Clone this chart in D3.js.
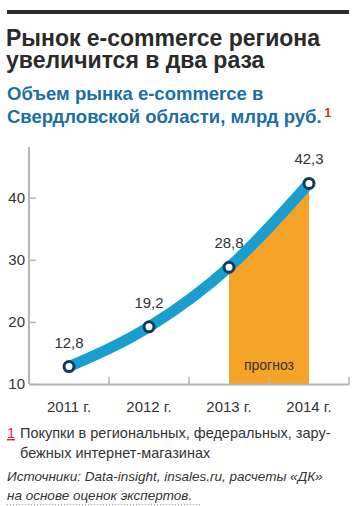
<!DOCTYPE html>
<html>
<head>
<meta charset="utf-8">
<script src="https://cdn.jsdelivr.net/npm/d3@7"></script>
<style>
  body { margin: 0; background: #fff; }
  svg { display: block; font-family: "Liberation Sans", Arial, sans-serif; }
</style>
</head>
<body>
<div id="chart"></div>
<script>
// Data
const years = ["2011 г.", "2012 г.", "2013 г.", "2014 г."];
const values = [12.8, 19.2, 28.8, 42.3];
const valueLabels = ["12,8", "19,2", "28,8", "42,3"];
const yTicks = [10, 20, 30, 40];
const forecastYears = ["2013 г.", "2014 г."];

const width = 354, height = 506;

const svg = d3.select("#chart").append("svg")
    .attr("width", width)
    .attr("height", height);

// Top rule
svg.append("rect")
    .attr("x", 7).attr("y", 10)
    .attr("width", 342).attr("height", 4)
    .attr("fill", "#2a2a2a");

// Title
const title = svg.append("text")
    .attr("fill", "#2a2a2a")
    .style("font-size", "23px")
    .style("font-weight", "bold");
title.append("tspan").attr("x", 6).attr("y", 46).text("Рынок e-commerce региона");
title.append("tspan").attr("x", 6).attr("y", 68).text("увеличится в два раза");

// Subtitle
const sub = svg.append("text")
    .attr("fill", "#1a6fa3")
    .style("font-size", "18.5px")
    .style("font-weight", "bold");
sub.append("tspan").attr("x", 7).attr("y", 100).text("Объем рынка e-commerce в");
sub.append("tspan").attr("x", 7).attr("y", 123).text("Свердловской области, млрд руб.");
sub.append("tspan")
    .attr("dx", 3).attr("dy", -6)
    .attr("fill", "#d8262e")
    .style("font-size", "12px")
    .text("1");

// Scales
const x = d3.scaleBand()
    .domain(years)
    .range([29, 349]);

const y = d3.scaleLinear()
    .domain([10, 48])
    .range([384, 148]);

const cx = d => x(d) + x.bandwidth() / 2;
const pts = years.map((d, i) => [cx(d), y(values[i])]);

// Forecast area (clipped to forecast span)
svg.append("clipPath").attr("id", "fc")
  .append("rect")
    .attr("x", cx(forecastYears[0]))
    .attr("y", 0)
    .attr("width", cx(forecastYears[1]) - cx(forecastYears[0]))
    .attr("height", y(10));

svg.append("path")
    .datum(pts)
    .attr("clip-path", "url(#fc)")
    .attr("fill", "#f5a228")
    .attr("d", d3.area()
        .x(d => d[0])
        .y0(y(10))
        .y1(d => d[1])
        .curve(d3.curveMonotoneX));

svg.append("text")
    .attr("x", x(forecastYears[0]) + x.bandwidth())
    .attr("y", 370)
    .attr("text-anchor", "middle")
    .attr("fill", "#333")
    .style("font-size", "14px")
    .text("прогноз");

// Y axis
const yAxis = svg.append("g")
    .attr("transform", "translate(29,0)")
    .call(d3.axisLeft(y)
        .tickValues(yTicks)
        .tickSizeInner(-7)
        .tickSizeOuter(0)
        .tickPadding(4));
yAxis.select(".domain").attr("stroke", "#b5b5b5").attr("stroke-width", 2)
    .attr("d", `M0,${y(48) - 1}V${y(10)}`);
yAxis.selectAll(".tick line").attr("stroke", "#b5b5b5").attr("stroke-width", 1.5);
yAxis.selectAll(".tick text")
    .attr("fill", "#333")
    .style("font-size", "15px")
    .style("font-family", "Liberation Sans, Arial, sans-serif");

// X axis
const xAxis = svg.append("g")
    .attr("transform", `translate(0,${y(10)})`)
    .call(d3.axisBottom(x).tickSize(0).tickPadding(17));
xAxis.select(".domain").attr("stroke", "#b5b5b5").attr("stroke-width", 2);
xAxis.selectAll(".tick text")
    .attr("fill", "#333")
    .style("font-size", "15px")
    .style("font-family", "Liberation Sans, Arial, sans-serif");

svg.append("g")
  .selectAll("line")
  .data(years)
  .join("line")
    .attr("x1", d => x(d) + x.bandwidth())
    .attr("x2", d => x(d) + x.bandwidth())
    .attr("y1", y(10) - 7)
    .attr("y2", y(10))
    .attr("stroke", "#b5b5b5")
    .attr("stroke-width", 1.5);

// Line
svg.append("path")
    .datum(pts)
    .attr("fill", "none")
    .attr("stroke", "#1a9ed0")
    .attr("stroke-width", 11)
    .attr("d", d3.line().curve(d3.curveMonotoneX));

// Points
svg.selectAll(".dot")
    .data(pts)
    .join("circle")
    .attr("class", "dot")
    .attr("cx", d => d[0])
    .attr("cy", d => d[1])
    .attr("r", 5)
    .attr("fill", "#fff")
    .attr("stroke", "#0e3b62")
    .attr("stroke-width", 3);

// Value labels
svg.selectAll(".val")
    .data(pts)
    .join("text")
    .attr("class", "val")
    .attr("x", d => d[0])
    .attr("y", d => d[1] - 19)
    .attr("text-anchor", "middle")
    .attr("fill", "#333")
    .style("font-size", "15px")
    .text((d, i) => valueLabels[i]);

// Footnote
svg.append("text")
    .attr("x", 7).attr("y", 438)
    .attr("fill", "#d8262e")
    .attr("text-decoration", "underline")
    .style("font-size", "14.5px")
    .text("1");

const note = svg.append("text")
    .attr("fill", "#333")
    .style("font-size", "14.5px");
note.append("tspan").attr("x", 20).attr("y", 438).text("Покупки в региональных, федеральных, зару-");
note.append("tspan").attr("x", 20).attr("y", 458).text("бежных интернет-магазинах");

const src = svg.append("text")
    .attr("fill", "#333")
    .style("font-size", "13.5px")
    .style("font-style", "italic");
src.append("tspan").attr("x", 7).attr("y", 481).text("Источники: Data-insight, insales.ru, расчеты «ДК»");
src.append("tspan").attr("x", 7).attr("y", 500).text("на основе оценок экспертов.");

svg.append("line")
    .attr("x1", 7).attr("x2", 202)
    .attr("y1", 504.5).attr("y2", 504.5)
    .attr("stroke", "#999")
    .attr("stroke-dasharray", "1,2");
</script>
</body>
</html>
